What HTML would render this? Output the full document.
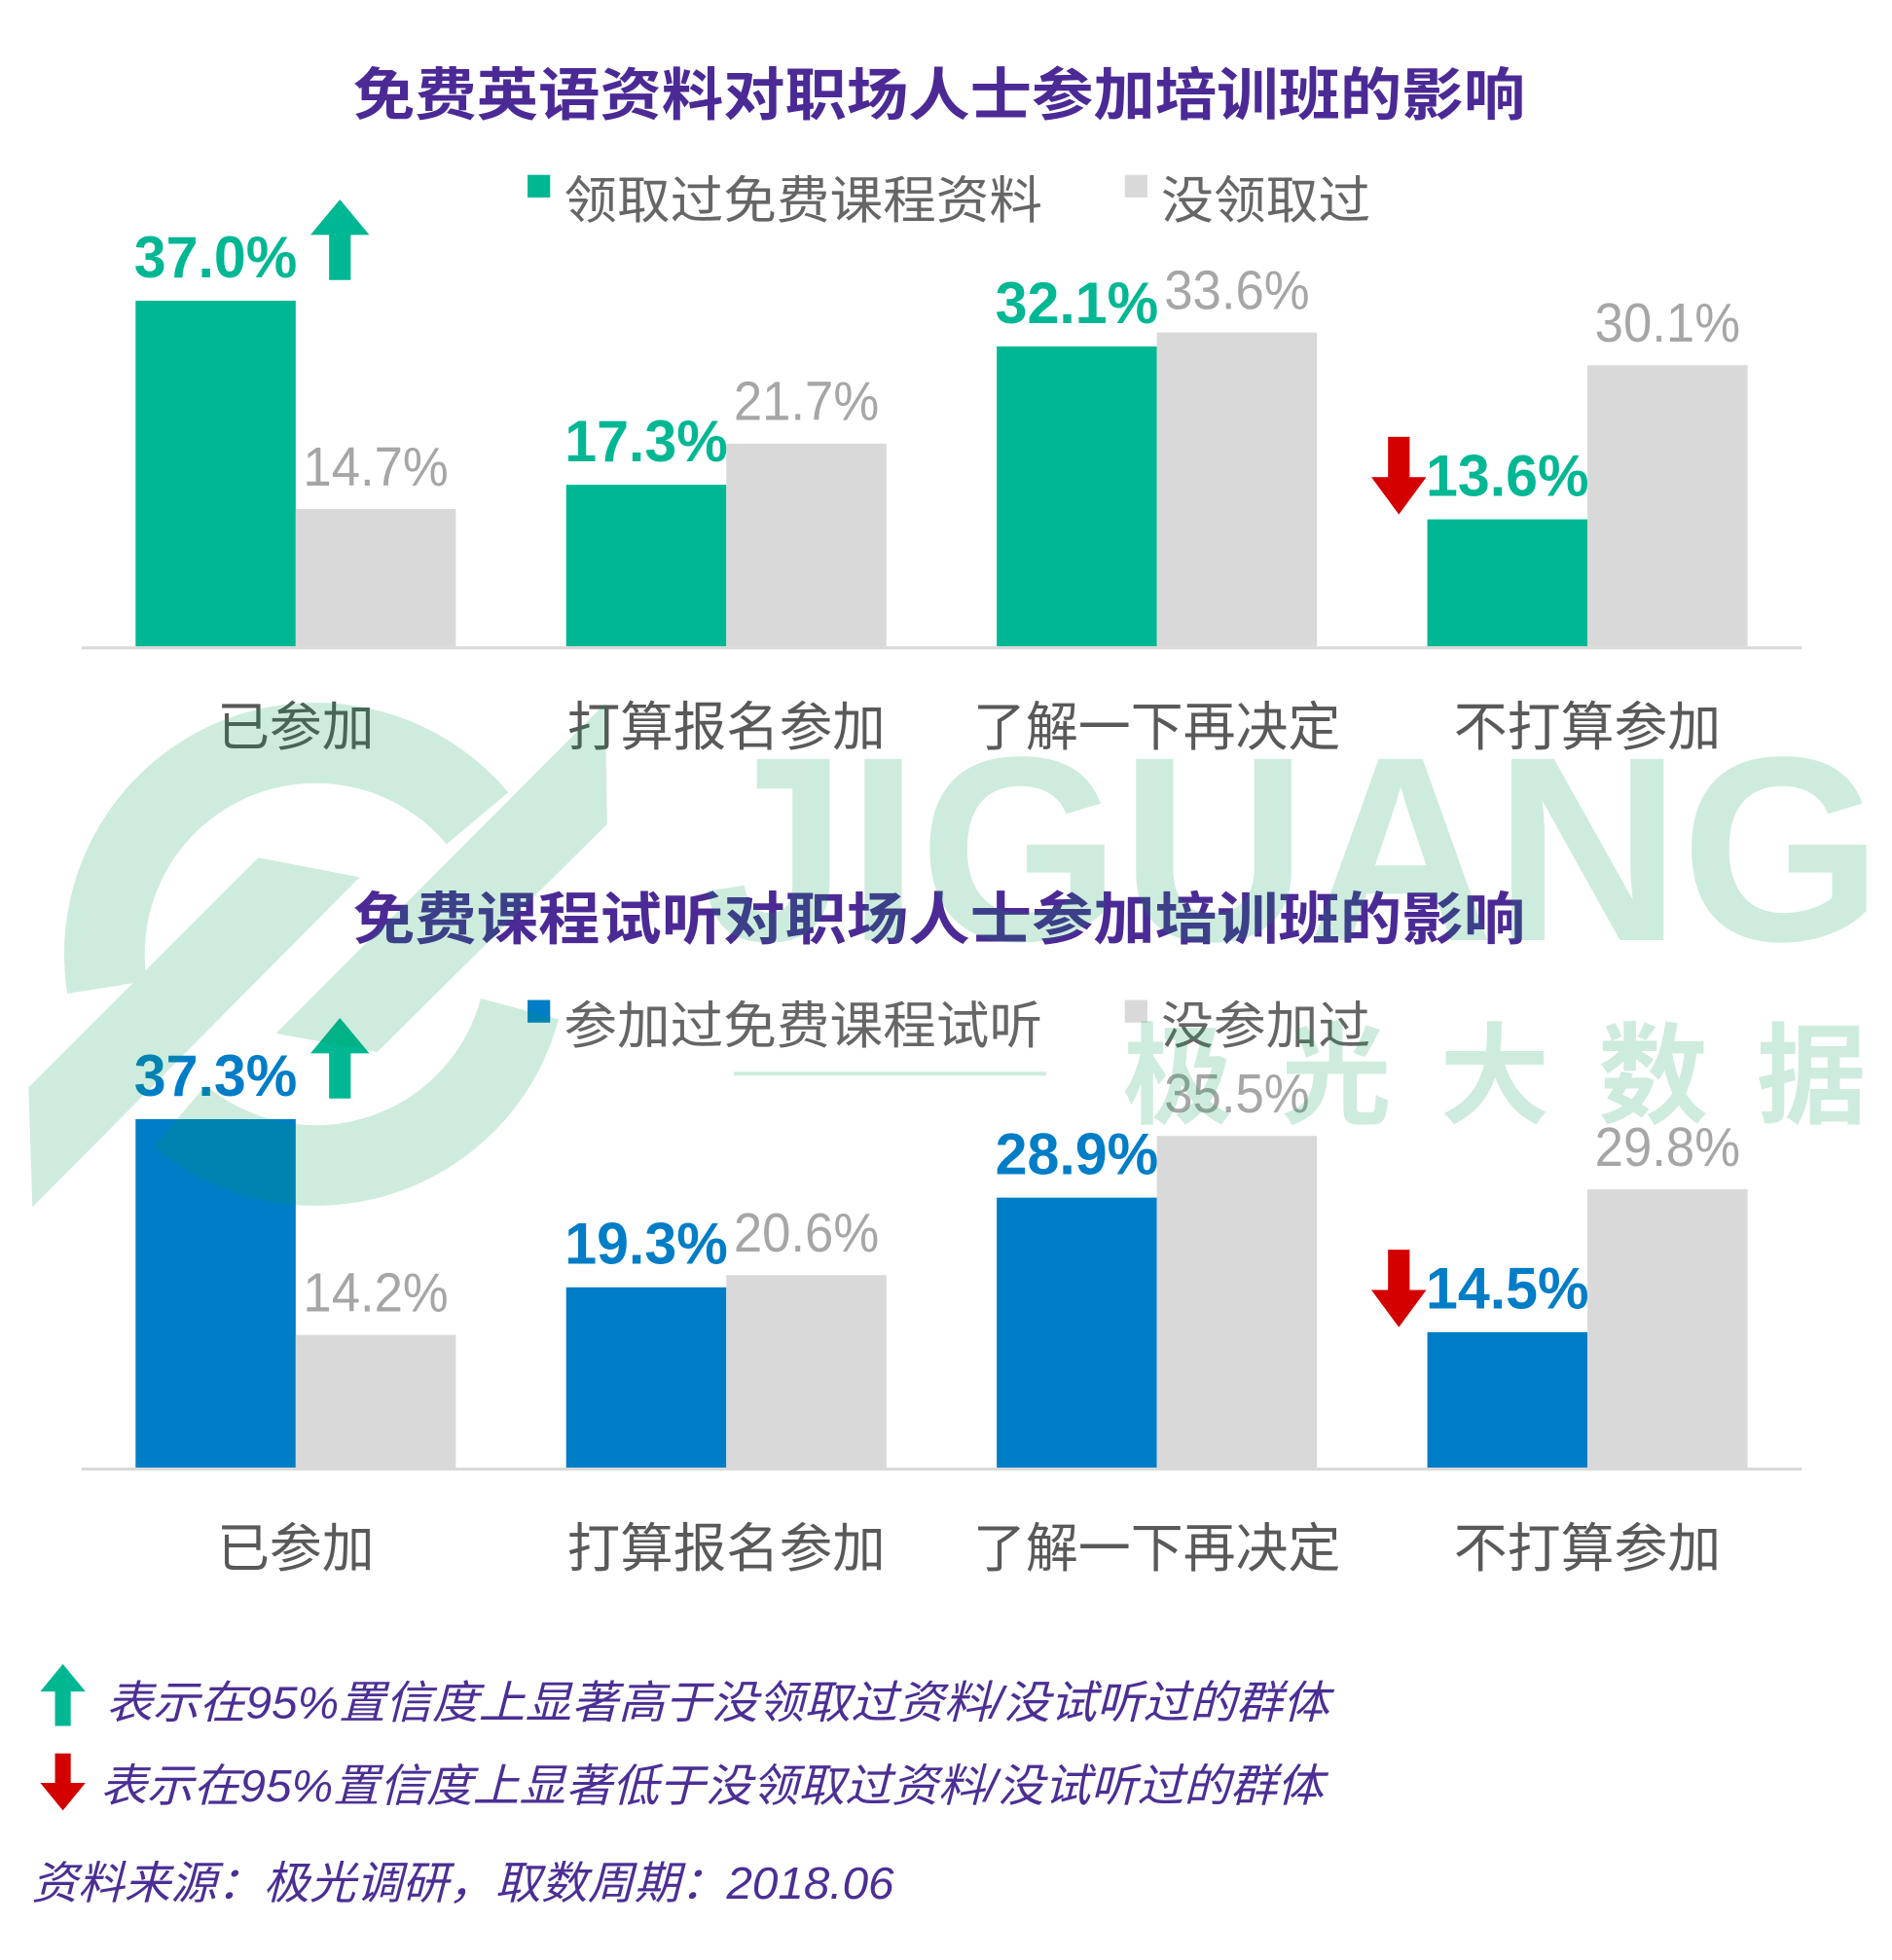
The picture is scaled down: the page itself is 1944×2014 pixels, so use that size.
<!DOCTYPE html>
<html><head><meta charset="utf-8"><style>
html,body{margin:0;padding:0;background:#fff;}
svg{display:block;}
text{font-family:"Liberation Sans","Noto Sans CJK SC",sans-serif;}
</style></head><body>
<svg id="svg" width="1944" height="2014" viewBox="0 0 1944 2014" xmlns="http://www.w3.org/2000/svg">
<g transform="scale(1.0094)">
<g id="charts"></g>
<g>
  <polygon points="64,1694 87,1722 72,1722 72,1757 56,1757 56,1722 41,1722" fill="#00b794"/>
  <text x="108" y="1749" font-size="46" font-style="italic" fill="#4b2f94" textLength="1245" lengthAdjust="spacingAndGlyphs">表示在95%置信度上显著高于没领取过资料/没试听过的群体</text>
  <polygon points="64,1843 87,1815 72,1815 72,1785 56,1785 56,1815 41,1815" fill="#d40000"/>
  <text x="102" y="1834" font-size="46" font-style="italic" fill="#4b2f94" textLength="1245" lengthAdjust="spacingAndGlyphs">表示在95%置信度上显著低于没领取过资料/没试听过的群体</text>
  <text x="32" y="1933" font-size="46" font-style="italic" fill="#4b2f94" textLength="878" lengthAdjust="spacingAndGlyphs">资料来源：极光调研，取数周期：2018.06</text>
</g>
<g fill="#00a050" opacity="0.19">
  <path d="M486,833 A215,215 0 0 0 109,1005" fill="none" stroke="#00a050" stroke-width="82"/>
  <path d="M183,1136 A215,215 0 0 0 529,1027" fill="none" stroke="#00a050" stroke-width="82"/>
  <polygon points="29,1107 263,873 366,893 33,1229"/>
  <polygon points="281,1052 616,716 618,839 384,1071"/>
  <text x="716" y="957" font-size="268" font-weight="bold" textLength="1200" lengthAdjust="spacingAndGlyphs">JIGUANG</text>
  <text x="1143" y="1135" font-size="112" font-weight="bold" textLength="757" lengthAdjust="spacing">极光大数据</text>
  <rect x="747" y="1091" width="318" height="4"/>
</g>
</g>
</svg>
<script>
const categories = ["已参加","打算报名参加","了解一下再决定","不打算参加"];
const chart1Series1 = [37.0, 17.3, 32.1, 13.6];
const chart1Series2 = [14.7, 21.7, 33.6, 30.1];
const chart2Series1 = [37.3, 19.3, 28.9, 14.5];
const chart2Series2 = [14.2, 20.6, 35.5, 29.8];
const chart1Signif = [1, 0, 0, -1];
const chart2Signif = [1, 0, 0, -1];
const titles = ["免费英语资料对职场人士参加培训班的影响","免费课程试听对职场人士参加培训班的影响"];
const legend1 = ["领取过免费课程资料","没领取过"];
const legend2 = ["参加过免费课程试听","没参加过"];

const NS="http://www.w3.org/2000/svg";
const root=document.getElementById('charts');
function mk(tag,attrs,parent,txt){const e=document.createElementNS(NS,tag);for(const k in attrs)e.setAttribute(k,attrs[k]);if(txt!==undefined)e.textContent=txt;(parent||root).appendChild(e);return e;}
const PX_PER=9.51;
function xGroup(i){return 138+i*438.3;}
const BW=163;
function yScale(v,base){return base-v*PX_PER;}
const catWidths=[160,324,374,272];

function drawChart(cfg){
  const g=mk('g',{});
  
  
  const t=mk('text',{x:956,y:cfg.titleY,'font-size':58,'font-weight':'bold',fill:'#4b2a96','text-anchor':'middle',textLength:1193,lengthAdjust:'spacingAndGlyphs'},g,cfg.title);
  
  
  const ly=cfg.legendY;
  const s1=mk('rect',{x:537,y:ly-28,width:23,height:23,fill:cfg.color},g);
  
  
  const l1=mk('text',{x:574,y:ly+16,'font-size':52,fill:'#666',textLength:487,lengthAdjust:'spacingAndGlyphs'},g,cfg.legend[0]);
  
  
  const s2=mk('rect',{x:1145,y:ly-28,width:23,height:23,fill:'#d9d9d9'},g);
  
  
  const l2=mk('text',{x:1182,y:ly+16,'font-size':52,fill:'#666',textLength:213,lengthAdjust:'spacingAndGlyphs'},g,cfg.legend[1]);
  
  
  const base=cfg.base;
  for(let i=0;i<categories.length;i++){
    const x0=xGroup(i);
    const v1=cfg.s1[i], v2=cfg.s2[i];
    const b1=mk('rect',{x:x0,y:yScale(v1,base),width:BW,height:base-yScale(v1,base),fill:cfg.color},g);
    
    
    const b2=mk('rect',{x:x0+BW,y:yScale(v2,base),width:BW,height:base-yScale(v2,base),fill:'#d9d9d9'},g);
    
    
    const t1=mk('text',{x:x0+BW/2,y:yScale(v1,base)-24,'font-size':60,'font-weight':'bold',fill:cfg.color,'text-anchor':'middle',textLength:166,lengthAdjust:'spacingAndGlyphs'},g,v1.toFixed(1)+'%');
    
    
    const t2=mk('text',{x:x0+BW*1.5,y:yScale(v2,base)-24,'font-size':56,fill:'#a6a6a6','text-anchor':'middle',textLength:148,lengthAdjust:'spacingAndGlyphs'},g,v2.toFixed(1)+'%');
    
    
    const cl=mk('text',{x:x0+BW,y:base+101,'font-size':54,fill:'#595959','text-anchor':'middle',textLength:catWidths[i],lengthAdjust:'spacingAndGlyphs'},g,categories[i]);
    
    
    const sg=cfg.sig[i];
    if(sg>0){
      const ty=yScale(v1,base)-103, by=yScale(v1,base)-21, ax=346;
      const a=mk('polygon',{points:`${ax},${ty} ${ax+30},${ty+36} ${ax+11},${ty+36} ${ax+11},${by} ${ax-11},${by} ${ax-11},${ty+36} ${ax-30},${ty+36}`,fill:'#00b794'},g);
      
      
    } else if(sg<0){
      const ax=xGroup(i)-29, ty=yScale(v1,base)-84, by=yScale(v1,base)-5;
      const a=mk('polygon',{points:`${ax},${by} ${ax+28},${by-38} ${ax+11},${by-38} ${ax+11},${ty} ${ax-11},${ty} ${ax-11},${by-38} ${ax-28},${by-38}`,fill:'#d40000'},g);
      
      
    }
  }
  const ax=mk('rect',{x:83,y:base,width:1751,height:3,fill:'#d9d9d9'},g);
  
  
}
drawChart({name:'chart-free-materials',title:titles[0],titleY:117,legend:legend1,legendY:206,color:'#00b794',s1:chart1Series1,s2:chart1Series2,sig:chart1Signif,base:658});
drawChart({name:'chart-free-trial',title:titles[1],titleY:956,legend:legend2,legendY:1046,color:'#007dc7',s1:chart2Series1,s2:chart2Series2,sig:chart2Signif,base:1494});
</script>
</body></html>
